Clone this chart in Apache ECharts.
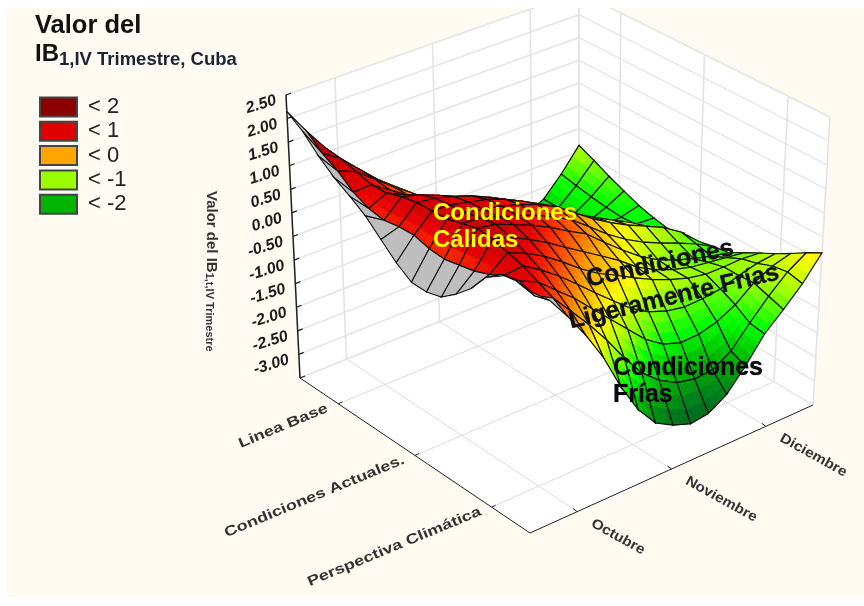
<!DOCTYPE html>
<html><head><meta charset="utf-8">
<style>html,body{margin:0;padding:0;background:#fff}#c{width:864px;height:606px}</style>
<script src="https://cdn.jsdelivr.net/npm/echarts@6/dist/echarts.min.js"></script>
</head><body><div id="c"></div>
<script>
var months = ['Octubre','Noviembre','Diciembre'];
var categories = ['Linea Base','Condiciones Actuales.','Perspectiva Climática'];
var zTicks = [2.5,2,1.5,1,0.5,0,-0.5,-1,-1.5,-2,-2.5,-3];
var legendNames = ['< 2','< 1','< 0','< -1','< -2'];
var legendColors = ['#8B0000','#E00000','#FFA500','#99FF00','#00B400'];
// rows: category position from Linea Base end to Perspectiva end; columns: Octubre end to Diciembre end
var surfaceRows = [
[2.15,1.6,1.1,.65,.3,-.05,-.35,-.65,-.95,-1.25,-1.55,-1.75,-1.88,-1.92,-1.75,-1.35,-.87],
[1.9,1.3,1.05,.68,.32,.02,-.28,-.57,-.85,-1.13,-1.42,-1.65,-1.8,-1.87,-1.75,-1.42,-1.02],
[1.55,1.1,.95,.65,.35,.08,-.2,-.48,-.75,-1.02,-1.28,-1.52,-1.7,-1.8,-1.72,-1.48,-1.18],
[1.27,.83,.85,.6,.35,.08,-.18,-.42,-.68,-.95,-1.2,-1.42,-1.6,-1.7,-1.68,-1.52,-1.32],
[1.06,.67,.85,.68,.48,.25,.02,-.2,-.45,-.7,-.95,-1.15,-1.35,-1.5,-1.58,-1.55,-1.45],
[.83,.6,.95,.85,.7,.52,.32,.1,-.12,-.35,-.58,-.82,-1.05,-1.25,-1.42,-1.52,-1.54],
[.52,.64,1,.95,.85,.72,.55,.36,.12,-.12,-.32,-.55,-.78,-1,-1.22,-1.42,-1.6],
[.22,.64,1,.98,.9,.82,.68,.5,.3,.02,-.2,-.42,-.62,-.82,-1.05,-1.32,-1.56],
[0,.54,1,1,.93,.85,.75,.6,.42,.15,-.12,-.35,-.55,-.72,-.9,-1.15,-1.5],
[-.02,.5,1.08,1.06,.95,.83,.7,.52,.32,.03,-.27,-.52,-.73,-.9,-1.05,-1.22,-1.43],
[.05,.55,1.15,1.1,.95,.8,.62,.4,.2,-.12,-.42,-.7,-.92,-1.08,-1.2,-1.3,-1.38],
[.28,.6,1.1,1,.82,.62,.38,.15,-.08,-.32,-.6,-.8,-.95,-1.05,-1.1,-1.15,-1.2],
[.56,.7,1,.85,.65,.4,.12,-.12,-.3,-.5,-.68,-.83,-.95,-1.02,-1.02,-1,-1.03],
[.95,.85,.9,.68,.42,.12,-.2,-.5,-.8,-1.02,-1.15,-1.22,-1.2,-1.15,-1.02,-.92,-.87],
[1.17,.9,.75,.45,.15,-.2,-.55,-.9,-1.25,-1.5,-1.62,-1.6,-1.5,-1.3,-1,-.8,-.69],
[1.2,.78,.6,.2,-.2,-.65,-1.15,-1.6,-1.9,-2.1,-2.18,-2.15,-1.92,-1.5,-1.1,-.75,-.5],
[1.15,.85,.4,-.1,-.68,-1.4,-2,-2.42,-2.62,-2.75,-2.7,-2.47,-2.05,-1.55,-1.2,-.82,-.33]
];
// number of cells per row, from the Octubre edge, that show the grey underside
var greyCells = [1,1,1,1,1,1,1,1,1,1,1,1,1,1,1,2];
var colorStops = [[-3,'#005020'],[-2.5,'#007A1E'],[-2,'#00B400'],[-1.5,'#00FF00'],[-1,'#99FF00'],[-0.5,'#FFFF00'],[0,'#FFA500'],[0.5,'#FF3800'],[0.8,'#E80000'],[1,'#D00000'],[1.5,'#A80000'],[2,'#8B0000']];
var annotations = [
 ['Condiciones',433,213,0,'#FFFF00',24,'left'],
 ['Cálidas',433,240,0,'#FFFF00',24,'left'],
 ['Condiciones',660,264,12.4,'#111',25,'center'],
 ['Ligeramente Frías',674,297,13.3,'#111',25,'center'],
 ['Condiciones',613,368,0,'#0a0a0a',25,'left'],
 ['Frías',613,395,0,'#0a0a0a',25,'left']
];
var FONT='"Liberation Sans",Arial,sans-serif';
var zMin=-3.5,zMax=2.5;
var bot={L:[300,378],B:[579,265],F:[530,533],R:[813,405]};
var top_={L:[286,95],B:[579,-8],F:[532,222],R:[830,117]};
function bil(c,u,v,i){return (1-u)*(1-v)*c.L[i]+u*(1-v)*c.B[i]+(1-u)*v*c.F[i]+u*v*c.R[i];}
function proj(u,v,z){var t=(z-zMin)/(zMax-zMin);
 return [bil(bot,u,v,0)*(1-t)+bil(top_,u,v,0)*t, bil(bot,u,v,1)*(1-t)+bil(top_,u,v,1)*t];}
function hex(s){return [parseInt(s.substr(1,2),16),parseInt(s.substr(3,2),16),parseInt(s.substr(5,2),16)];}
function zColor(z){var s=colorStops;if(z<=s[0][0])return s[0][1];if(z>=s[s.length-1][0])return s[s.length-1][1];
 for(var i=0;i<s.length-1;i++){if(z<=s[i+1][0]){var f=(z-s[i][0])/(s[i+1][0]-s[i][0]),a=hex(s[i][1]),b=hex(s[i+1][1]);
 return 'rgb('+Math.round(a[0]+(b[0]-a[0])*f)+','+Math.round(a[1]+(b[1]-a[1])*f)+','+Math.round(a[2]+(b[2]-a[2])*f)+')';}}}
var N=surfaceRows.length-1,M=surfaceRows[0].length-1;
var cells=[];for(var k=M-1;k>=0;k--)for(var j=0;j<N;j++)cells.push([k,j]);

function line(api,a,b,color,w){var p=api.coord(a),q=api.coord(b);return {type:'line',shape:{x1:p[0],y1:p[1],x2:q[0],y2:q[1]},style:{stroke:color,lineWidth:w,fill:null}};}
function poly(api,pts,fill,stroke,w){return {type:'polygon',shape:{points:pts.map(function(p){return api.coord(p);})},style:{fill:fill,stroke:stroke,lineWidth:w}};}
function txt(api,s,p,o){var c=api.coord(p);return {type:'text',x:c[0],y:c[1],rotation:(o.rot||0)*Math.PI/180,scaleX:o.sx||1,style:{text:s,font:o.font,fill:o.fill||'#222',align:o.align||'left',verticalAlign:'middle',textShadowColor:o.sc,textShadowBlur:o.sb||0,rich:o.rich}};}

function renderFrame(params,api){
 var ch=[];
 ch.push({type:'rect',shape:{x:7,y:8,width:857,height:589},style:{fill:'#FFFBF2'}});
 var Z0=zMin,Z1=zMax;
 ch.push(poly(api,[proj(0,0,Z0),proj(0,0,Z1),proj(1,0,Z1),proj(1,0,Z0)],'#fff'));
 ch.push(poly(api,[proj(1,0,Z0),proj(1,0,Z1),proj(1,1,Z1),proj(1,1,Z0)],'#fff'));
 ch.push(poly(api,[proj(0,0,Z0),proj(1,0,Z0),proj(1,1,Z0),proj(0,1,Z0)],'#fff'));
 var G='#E3E3E3';
 var all=[zMin].concat(zTicks);
 all.forEach(function(z){ ch.push(line(api,proj(0,0,z),proj(1,0,z),G,1.4)); ch.push(line(api,proj(1,0,z),proj(1,1,z),G,1.4)); });
 [0,1,2,3,4].forEach(function(i){
  var t=[0,1/6,1/2,5/6,1][i];
  ch.push(line(api,proj(t,0,Z0),proj(t,0,Z1),G,1.6));
  ch.push(line(api,proj(1,t,Z0),proj(1,t,Z1),G,1.6));
  if(i>0&&i<4){ ch.push(line(api,proj(t,0,Z0),proj(t,1,Z0),'#DCDCDC',1)); ch.push(line(api,proj(0,t,Z0),proj(1,t,Z0),'#DCDCDC',1)); }
 });
 // axes
 ch.push(line(api,proj(0,0,Z0),proj(0,0,Z1),'#222',1.5));
 ch.push(line(api,proj(0,0,Z0),proj(0,1,Z0),'#222',1));
 ch.push(line(api,proj(0,1,Z0),proj(1,1,Z0),'#222',1));
 all.forEach(function(z){ var p=proj(0,0,z),q=[p[0]+5,p[1]-2]; ch.push(line(api,p,q,'#222',1.2)); });
 zTicks.forEach(function(z){ var p=proj(0,0,z);
  ch.push(txt(api,z.toFixed(2),[p[0]-10,p[1]+5],{rot:17,font:'italic bold 16px '+FONT,align:'right',fill:'#1c1c1c'})); });
 categories.forEach(function(c,i){ var t=(i+.5)/3,p=proj(0,t,Z0);
  ch.push(line(api,p,[p[0]+4,p[1]-2],'#222',1));
  ch.push(txt(api,c,[p[0]-11,p[1]+4],{rot:22.5,font:'bold 14px '+FONT,align:'right',fill:'#333',sx:1.29})); });
 months.forEach(function(c,i){ var t=(i+.5)/3,p=proj(t,1,Z0);
  ch.push(line(api,p,[p[0]-4,p[1]-3],'#222',1));
  ch.push(txt(api,c,[p[0]+15,p[1]+11],{rot:-29,font:'bold 14px '+FONT,align:'left',fill:'#333',sx:1.1})); });
 ch.push(txt(api,'{a|Valor del IB}{b|1,t,IV Trimestre}',[211,191],{rot:-90,font:'bold 15px '+FONT,align:'left',fill:'#333',
   rich:{a:{font:'bold 15px '+FONT,fill:'#333'},b:{font:'bold 11px '+FONT,fill:'#333',verticalAlign:'bottom'}}}));
 ch.push({type:'rect',shape:{x:0,y:0,width:864,height:8},style:{fill:'#fff'}});
 return {type:'group',children:ch};
}
function renderCell(params,api){
 var k=api.value(0),j=api.value(1),R=surfaceRows;
 var z00=R[j][k],z10=R[j][k+1],z01=R[j+1][k],z11=R[j+1][k+1];
 var U=function(i){return (k+i)/M;},V=function(i){return (j+i)/N;};
 var c=[proj(U(0),V(0),z00),proj(U(1),V(0),z10),proj(U(1),V(1),z11),proj(U(0),V(1),z01)];
 var area=0;for(var i=0;i<4;i++){var a=c[i],b=c[(i+1)%4];area+=a[0]*b[1]-b[0]*a[1];}
 var grey=k<greyCells[j]||area<0;
 var ch=[];
 if(grey){ch.push(poly(api,c,'#BEBEBE','#111',1.1));}
 else{
  var S=3;
  for(var a1=0;a1<S;a1++)for(var b1=0;b1<S;b1++){
   var zf=function(x,y){return z00*(1-x)*(1-y)+z10*x*(1-y)+z01*(1-x)*y+z11*x*y;};
   var pf=function(x,y){return proj(U(x),V(y),zf(x,y));};
   var x0=a1/S,x1=(a1+1)/S,y0=b1/S,y1=(b1+1)/S,col=zColor(zf((x0+x1)/2,(y0+y1)/2));
   ch.push(poly(api,[pf(x0,y0),pf(x1,y0),pf(x1,y1),pf(x0,y1)],col,col,.8));
  }
  ch.push(poly(api,c,'none','#0c0c0c',1.2));
 }
 return {type:'group',children:ch};
}
function renderNotes(params,api){
 var n=annotations[params.dataIndex];
 return txt(api,n[0],[n[1],n[2]],{rot:n[3],fill:n[4],align:n[6],font:'bold '+n[5]+'px '+FONT,sc:n[4]==='#FFFF00'?'#803000':'#334466',sb:1});
}
var legendSeries=legendNames.map(function(n,i){return {type:'custom',name:n,data:[],renderItem:function(){},itemStyle:{color:legendColors[i],borderColor:'#444',borderWidth:1.5}};});
var option={
 animation:false,backgroundColor:'#fff',
 title:[{text:'Valor del',left:35,top:13,padding:0,textStyle:{fontFamily:FONT,fontSize:25.5,fontWeight:'bold',color:'#111'}},
  {text:'{a|IB}{b|1,IV Trimestre, Cuba}',left:35,top:40,padding:0,textStyle:{rich:{a:{fontFamily:FONT,fontSize:24,fontWeight:'bold',color:'#111'},b:{fontFamily:FONT,fontSize:18.5,fontWeight:'bold',color:'#1a2533',padding:[10,0,0,0]}}}}],
 legend:{orient:'vertical',left:39,top:96,padding:0,icon:'rect',itemWidth:37,itemHeight:19,itemGap:2.3,selectedMode:false,textStyle:{fontFamily:FONT,fontSize:22,lineHeight:19,height:19,color:'#222',padding:[0,0,0,6]},data:legendNames},
 grid:{left:0,right:0,top:0,bottom:0},
 xAxis:{type:'value',min:0,max:864,show:false},
 yAxis:{type:'value',min:0,max:606,inverse:true,show:false},
 series:[
  {type:'custom',coordinateSystem:'cartesian2d',data:[[0,0]],renderItem:renderFrame,silent:true,z:1,clip:false},
  {type:'custom',coordinateSystem:'cartesian2d',data:cells,renderItem:renderCell,silent:true,z:2,encode:{x:0,y:1},clip:false},
  {type:'custom',coordinateSystem:'cartesian2d',data:annotations.map(function(a){return [a[1],a[2]];}),renderItem:renderNotes,silent:true,z:3,clip:false}
 ].concat(legendSeries)
};
echarts.init(document.getElementById('c'),null,{renderer:'canvas'}).setOption(option);
</script></body></html>
